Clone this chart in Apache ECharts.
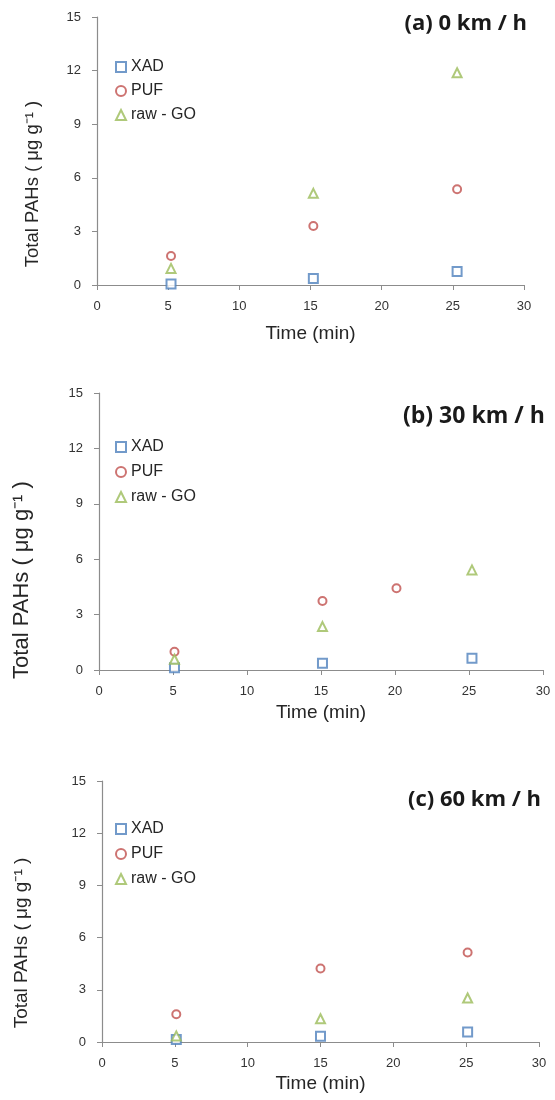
<!DOCTYPE html>
<html>
<head>
<meta charset="utf-8">
<script src="https://cdn.jsdelivr.net/npm/echarts@6/dist/echarts.min.js"></script>
<style>
  html, body { margin: 0; padding: 0; background: #fff; }
  #chart { width: 555px; height: 1100px; }
</style>
</head>
<body>
<div id="chart"></div>
<script>
// Sampling times (min) and total PAHs (µg g-1) for each sampler, per vehicle speed
const seriesNames = ['XAD', 'PUF', 'raw - GO'];
const panelTitles = ['(a) 0 km / h', '(b) 30 km / h', '(c) 60 km / h'];
const xTicks = [0, 5, 10, 15, 20, 25, 30];
const yTicks = [0, 3, 6, 9, 12, 15];

// (a) 0 km/h
const timeA_XAD = [5.2, 15.2, 25.3];
const valA_XAD = [0.05, 0.37, 0.75];
const timeA_PUF = [5.2, 15.2, 25.3];
const valA_PUF = [1.62, 3.3, 5.36];
const timeA_GO = [5.2, 15.2, 25.3];
const valA_GO = [0.93, 5.13, 11.88];

// (b) 30 km/h
const timeB_XAD = [5.1, 15.1, 25.2];
const valB_XAD = [0.12, 0.36, 0.63];
const timeB_PUF = [5.1, 15.1, 20.1];
const valB_PUF = [0.99, 3.74, 4.43];
const timeB_GO = [5.1, 15.1, 25.2];
const valB_GO = [0.58, 2.35, 5.42];

// (c) 60 km/h
const timeC_XAD = [5.1, 15.0, 25.1];
const valC_XAD = [0.14, 0.33, 0.57];
const timeC_PUF = [5.1, 15.0, 25.1];
const valC_PUF = [1.59, 4.22, 5.14];
const timeC_GO = [5.1, 15.0, 25.1];
const valC_GO = [0.35, 1.34, 2.53];

const panels = [
  { xad: [timeA_XAD, valA_XAD], puf: [timeA_PUF, valA_PUF], go: [timeA_GO, valA_GO] },
  { xad: [timeB_XAD, valB_XAD], puf: [timeB_PUF, valB_PUF], go: [timeB_GO, valB_GO] },
  { xad: [timeC_XAD, valC_XAD], puf: [timeC_PUF, valC_PUF], go: [timeC_GO, valC_GO] }
];

// layout of the three stacked plots
const layout = [
  { left: 97, right: 31, top: 17, height: 268,
    title: { right: 23, top: 8, size: 22 }, legendTop: 54, legendGap: 8,
    yName: { x: 33, y: 184, size: 18.5 }, nameGap: 39, font: 13 },
  { left: 99, right: 12, top: 393, height: 277,
    title: { left: 398, top: 400, size: 23 }, legendTop: 434, legendGap: 9,
    yName: { x: 22, y: 580, size: 22 }, nameGap: 33, font: 13 },
  { left: 102, right: 16, top: 781, height: 261,
    title: { left: 403, top: 784, size: 22 }, legendTop: 816, legendGap: 9,
    yName: { x: 22, y: 943, size: 19 }, nameGap: 32, font: 13 }
];

const colors = { XAD: '#4F81BD', PUF: '#C0504D', 'raw - GO': '#9BBB59' };
const symbols = { XAD: 'emptyRect', PUF: 'emptyCircle', 'raw - GO': 'emptyTriangle' };
const symbolSizes = { XAD: 9, PUF: 8, 'raw - GO': 9 };
const fontFam = '"Liberation Sans", Arial, sans-serif';

const zip = (xs, ys) => xs.map((x, i) => [x, ys[i]]);

const option = {
  animation: false,
  backgroundColor: '#fff',
  title: [], grid: [], xAxis: [], yAxis: [], legend: [], series: [], graphic: []
};

layout.forEach((L, i) => {
  const t = { text: panelTitles[i], top: L.title.top,
    textStyle: { fontFamily: '"Open Sans", sans-serif', fontWeight: 'bold', fontSize: L.title.size, color: '#1a1a1a' } };
  if (L.title.right !== undefined) t.right = L.title.right; else t.left = L.title.left;
  option.title.push(t);
  option.grid.push({ left: L.left, right: L.right, top: L.top, height: L.height, containLabel: false });
  option.xAxis.push({
    type: 'value', gridIndex: i, min: xTicks[0], max: xTicks[xTicks.length - 1], interval: 5,
    name: 'Time (min)', nameLocation: 'middle', nameGap: L.nameGap,
    nameTextStyle: { fontFamily: fontFam, fontSize: 19, color: '#262626' },
    axisLine: { onZero: false, lineStyle: { color: '#8c8c8c', width: 1.2 } },
    axisTick: { show: true, length: 5, lineStyle: { color: '#8c8c8c' } },
    axisLabel: { fontFamily: fontFam, fontSize: L.font, color: '#333', margin: 15 },
    splitLine: { show: false }
  });
  option.yAxis.push({
    type: 'value', gridIndex: i, min: yTicks[0], max: yTicks[yTicks.length - 1], interval: 3,
    axisLine: { show: true, lineStyle: { color: '#8c8c8c', width: 1.2 } },
    axisTick: { show: true, length: 5, lineStyle: { color: '#8c8c8c' } },
    axisLabel: { fontFamily: fontFam, fontSize: L.font, color: '#333', margin: 16 },
    splitLine: { show: false }
  });
  option.legend.push({
    orient: 'vertical', left: 110, top: L.legendTop, itemGap: L.legendGap,
    itemWidth: 10, itemHeight: 10,
    data: seriesNames,
    selectedMode: false,
    textStyle: { fontFamily: fontFam, fontSize: 16, color: '#262626' }
  });
  option.graphic.push({
    type: 'text', x: L.yName.x, y: L.yName.y, rotation: Math.PI / 2,
    style: {
      text: 'Total PAHs ( μg g⁻¹ )', align: 'center', verticalAlign: 'middle',
      font: L.yName.size + 'px "Liberation Sans", Arial, sans-serif', fill: '#262626'
    }
  });
  const p = panels[i];
  [['XAD', p.xad], ['PUF', p.puf], ['raw - GO', p.go]].forEach(([name, d]) => {
    option.series.push({
      name, type: 'scatter', xAxisIndex: i, yAxisIndex: i,
      symbol: symbols[name], symbolSize: symbolSizes[name],
      itemStyle: { color: colors[name], borderColor: colors[name], borderWidth: 1.6 },
      data: zip(d[0], d[1])
    });
  });
});

const chart = echarts.init(document.getElementById('chart'), null, { renderer: 'canvas' });
chart.setOption(option);
</script>
</body>
</html>
